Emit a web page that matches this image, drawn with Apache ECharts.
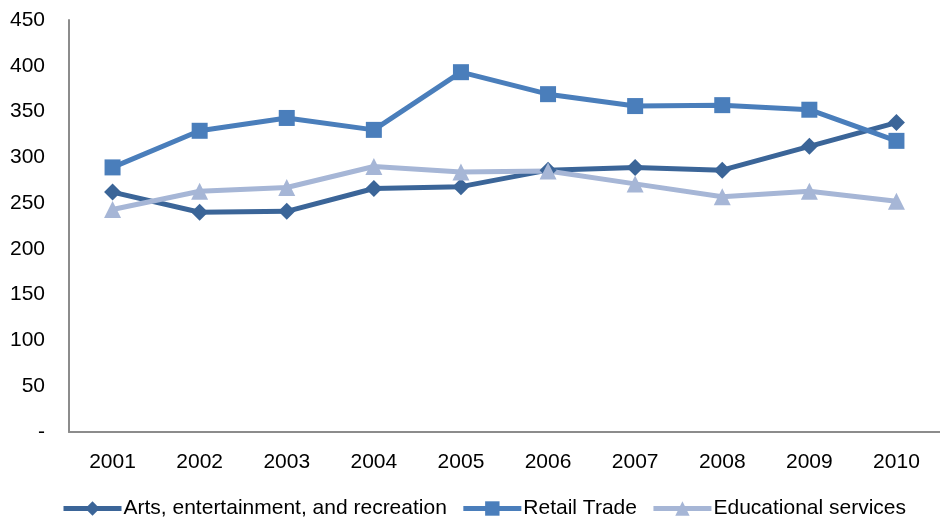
<!DOCTYPE html>
<html>
<head>
<meta charset="utf-8">
<script src="https://cdn.jsdelivr.net/npm/echarts@6/dist/echarts.min.js"></script>
<style>
    html, body { margin: 0; padding: 0; background: #fff; }
    #chart { width: 940px; height: 522px; }
</style>
</head>
<body>
<div id="chart"></div>
<script>
var years = ['2001', '2002', '2003', '2004', '2005', '2006', '2007', '2008', '2009', '2010'];
var arts = [262, 240, 241, 266, 268, 286, 289, 286, 312, 338];
var retail = [289, 329, 343, 330, 393, 369, 356, 357, 352, 318];
var education = [243, 263, 267, 290, 284, 285, 271, 257, 263, 252];
var seriesNames = ['Arts, entertainment, and recreation', 'Retail Trade', 'Educational services'];

var font = 'Liberation Sans, Arial, sans-serif';

var make_series = function (name, data, color, symbol, size) {
    return {
        name: name,
        type: 'line',
        data: data,
        symbol: symbol,
        symbolSize: size,
        lineStyle: { color: color, width: 5 },
        itemStyle: { color: color },
        animation: false
    };
};

var option = {
    grid: {
        left: 69,
        right: -7,
        top: 20,
        bottom: 90
    },
    legend: {
        bottom: -2,
        left: 56,
        itemWidth: 58,
        itemHeight: 18,
        itemGap: 14,
        lineStyle: { width: 5 },
        textStyle: { fontFamily: font, fontSize: 21, color: '#000', padding: [0, 0, 0, -3] },
        data: seriesNames
    },
    xAxis: {
        type: 'category',
        data: years,
        boundaryGap: true,
        axisLine: { lineStyle: { color: '#8c8c8c', width: 2 } },
        axisTick: { show: false },
        axisLabel: { fontFamily: font, fontSize: 21, color: '#000', margin: 20 }
    },
    yAxis: {
        type: 'value',
        min: 0,
        max: 450,
        interval: 50,
        axisLine: { show: true, lineStyle: { color: '#8c8c8c', width: 2 } },
        axisTick: { show: false },
        splitLine: { show: false },
        axisLabel: {
            fontFamily: font, fontSize: 21, color: '#000', margin: 24,
            formatter: function (v) { return v === 0 ? '-' : v; }
        }
    },
    series: [
        make_series(seriesNames[0], arts, '#3b6598', 'diamond', 17),
        make_series(seriesNames[1], retail, '#4a7ebb', 'rect', 16),
        make_series(seriesNames[2], education, '#a6b6d6', 'triangle', 17)
    ]
};

var chart = echarts.init(document.getElementById('chart'));
chart.setOption(option);
</script>
</body>
</html>
